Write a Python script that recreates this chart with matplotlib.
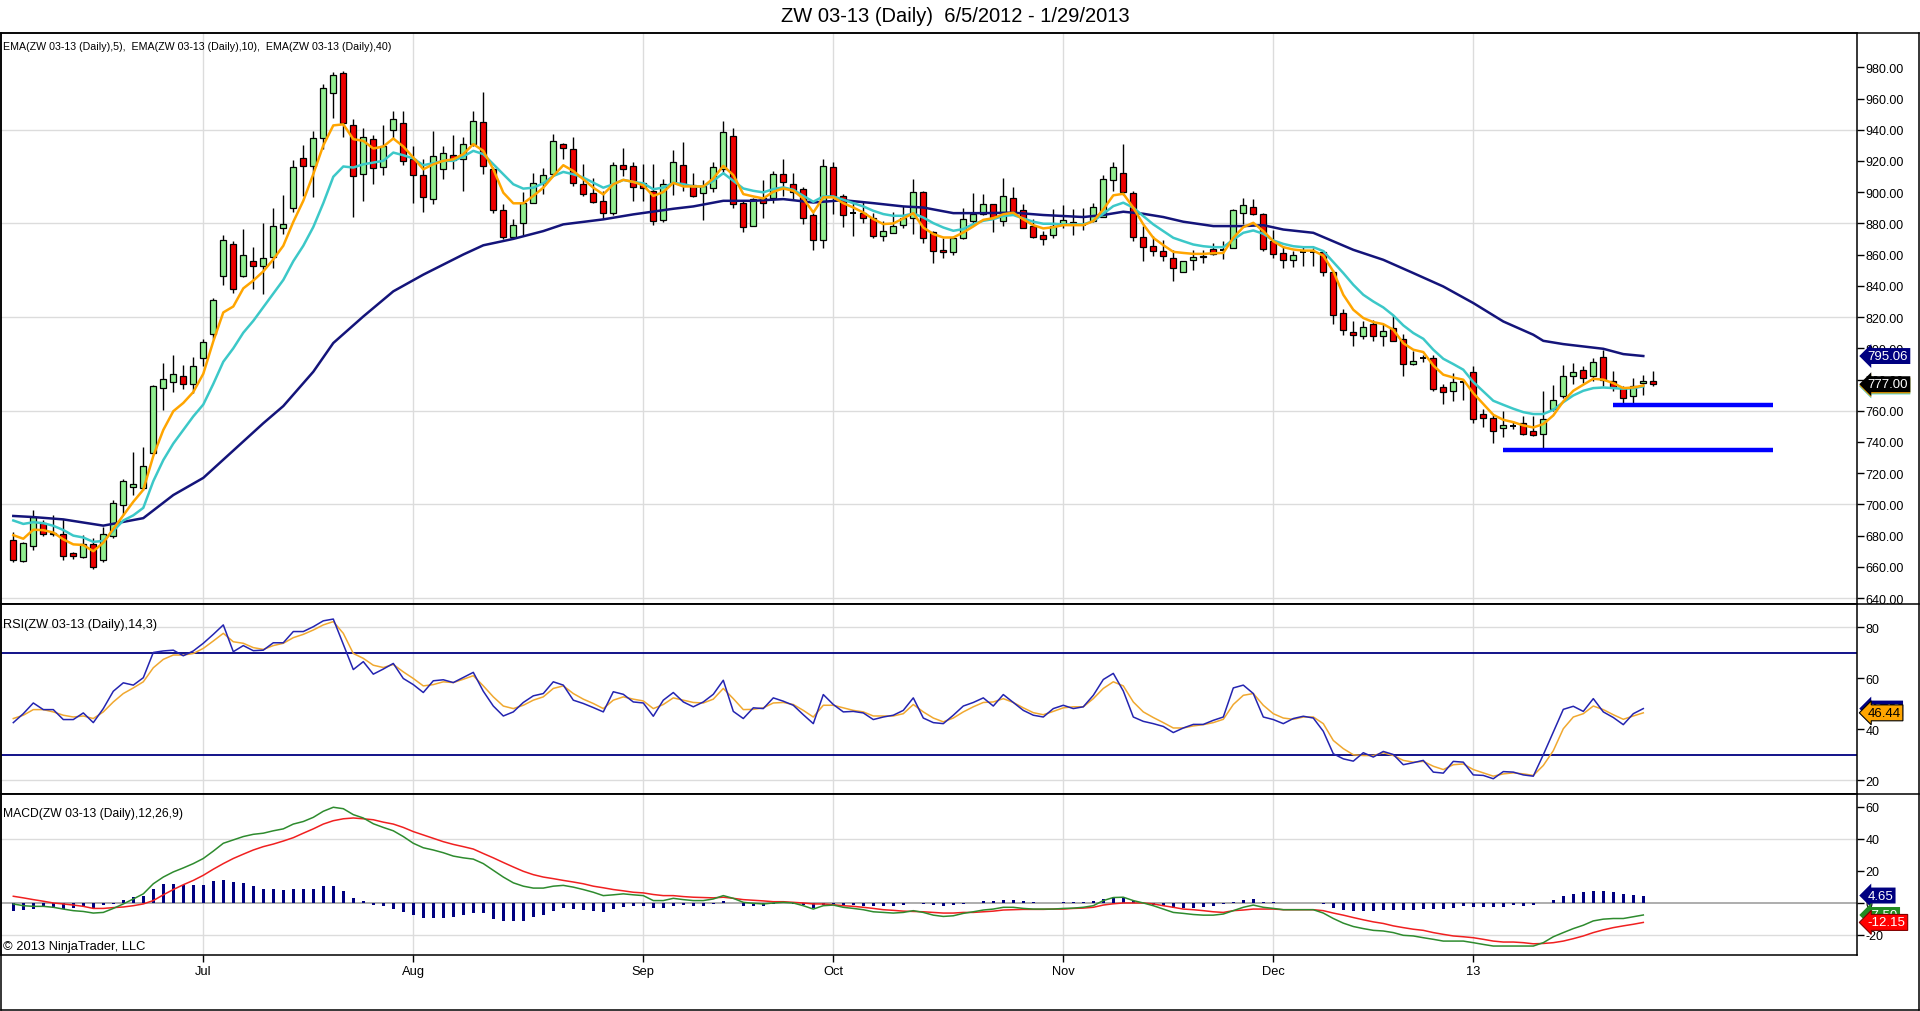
import matplotlib
matplotlib.use("Agg")
import matplotlib.pyplot as plt
import numpy as np
from matplotlib.lines import Line2D
from matplotlib.ticker import FuncFormatter
from matplotlib import font_manager

plt.rcParams['font.family'] = ['Liberation Sans', 'DejaVu Sans']
_names = {f.name for f in font_manager.fontManager.ttflist}
LEGEND_FAMILY = ['Liberation Sans Narrow', 'Liberation Sans'] if 'Liberation Sans Narrow' in _names else ['Liberation Sans']
LEGEND_FS = 9.3 if 'Liberation Sans Narrow' in _names else 7.7

# ---------------- data ----------------
title = "ZW 03-13 (Daily)  6/5/2012 - 1/29/2013"
month_ticks = [19, 40, 63, 82, 105, 126, 146]
month_labels = ["Jul", "Aug", "Sep", "Oct", "Nov", "Dec", "13"]

opens = [677.3, 663.7, 673.3, 688.2, 681.0, 681.0, 668.6, 666.3, 674.4, 664.6,
         679.9, 699.6, 710.9, 710.5, 732.8, 774.3, 778.7, 782.2, 777.2, 794.0,
         809.3, 846.4, 866.8, 846.4, 855.8, 853.0, 858.7, 877.0, 889.7, 922.1,
         917.0, 935.0, 963.6, 976.1, 943.0, 911.9, 934.0, 916.4, 940.0, 944.3,
         921.1, 910.9, 895.4, 915.1, 923.9, 921.6, 931.2, 944.7, 914.7, 888.6,
         871.4, 880.0, 893.3, 906.1, 911.5, 931.2, 928.0, 905.5, 899.7, 894.4,
         886.9, 917.3, 916.9, 906.1, 900.8, 882.1, 905.8, 917.4, 904.6, 899.4,
         902.4, 914.8, 935.7, 893.4, 878.5, 896.0, 896.0, 911.6, 905.2, 902.0,
         885.3, 869.5, 915.9, 897.7, 886.8, 887.0, 883.8, 871.7, 873.6, 878.9,
         883.8, 900.3, 874.2, 862.9, 861.4, 870.4, 881.7, 886.0, 892.2, 881.7,
         896.5, 888.8, 878.3, 872.3, 872.5, 879.8, 881.1, 879.3, 881.5, 884.1,
         907.9, 912.6, 899.7, 871.2, 865.6, 862.6, 857.9, 848.9, 856.6, 859.0,
         863.7, 863.3, 864.4, 886.9, 890.7, 886.2, 868.6, 861.1, 856.6, 861.6,
         861.4, 861.8, 848.9, 822.6, 810.4, 807.6, 815.5, 807.6, 813.0, 805.9,
         789.9, 793.6, 793.7, 775.2, 772.8, 778.5, 784.8, 757.9, 755.3, 748.9,
         750.2, 752.1, 746.8, 745.0, 761.3, 769.2, 782.0, 786.3, 782.0, 794.2,
         778.8, 774.5, 769.2, 777.7, 779.2]

highs = [682.1, 676.0, 696.3, 689.7, 693.0, 690.8, 669.4, 680.3, 678.8, 685.4,
         702.8, 716.2, 733.4, 736.7, 776.5, 790.3, 795.7, 789.2, 794.6, 806.2,
         832.5, 872.7, 869.0, 876.6, 865.2, 880.5, 890.2, 898.0, 920.8, 930.2,
         938.9, 969.5, 976.7, 977.6, 946.9, 940.9, 936.6, 943.0, 952.2, 952.2,
         929.3, 921.6, 939.4, 929.3, 936.6, 935.1, 952.2, 964.0, 916.4, 892.2,
         882.6, 900.1, 912.1, 915.8, 937.2, 931.5, 935.1, 917.9, 909.4, 900.8,
         919.4, 928.6, 919.4, 917.9, 917.9, 908.7, 927.2, 931.9, 912.2, 908.0,
         919.5, 945.8, 940.9, 894.5, 896.0, 908.0, 913.7, 921.2, 912.2, 903.1,
         887.0, 921.2, 919.1, 898.8, 893.4, 893.8, 887.0, 881.7, 887.5, 890.9,
         908.4, 900.9, 875.3, 870.4, 871.7, 890.2, 899.4, 898.8, 892.5, 908.8,
         903.4, 892.6, 882.6, 875.1, 889.0, 891.8, 889.0, 889.6, 893.3, 911.1,
         919.6, 930.8, 900.8, 878.3, 871.9, 869.1, 863.3, 856.0, 863.3, 863.3,
         867.6, 868.6, 889.0, 896.1, 895.4, 886.9, 876.1, 865.4, 862.6, 864.8,
         864.4, 863.3, 850.3, 825.3, 817.7, 817.7, 818.3, 815.5, 821.5, 809.1,
         798.4, 795.4, 795.4, 777.1, 784.1, 779.2, 788.4, 761.3, 757.4, 759.6,
         753.6, 756.4, 756.4, 772.8, 776.7, 789.5, 790.5, 788.4, 793.7, 799.1,
         785.2, 775.6, 780.9, 783.1, 785.2]

lows = [662.8, 663.3, 671.1, 679.5, 680.0, 664.6, 665.3, 665.7, 658.7, 662.8,
        678.8, 693.0, 706.1, 709.4, 732.3, 760.3, 772.1, 773.9, 771.3, 788.7,
        806.2, 840.5, 835.7, 846.0, 837.7, 834.6, 851.5, 873.3, 887.5, 897.4,
        896.7, 928.0, 947.7, 935.6, 884.3, 894.4, 905.1, 910.9, 934.0, 917.3,
        892.9, 887.3, 892.2, 908.7, 914.7, 900.8, 929.3, 911.5, 886.9, 870.1,
        870.8, 872.3, 892.9, 898.6, 910.4, 921.1, 904.0, 897.6, 892.9, 883.0,
        885.1, 910.4, 894.4, 894.4, 878.9, 881.1, 898.1, 900.9, 896.7, 882.3,
        899.9, 911.6, 890.2, 874.7, 878.5, 883.2, 893.4, 897.7, 895.6, 879.6,
        863.1, 864.0, 886.0, 877.4, 871.7, 880.6, 870.4, 868.9, 873.6, 876.8,
        873.2, 867.4, 854.6, 857.6, 859.7, 869.9, 879.6, 885.3, 874.2, 878.6,
        885.4, 876.8, 870.4, 866.1, 870.8, 876.8, 872.5, 876.1, 881.1, 884.1,
        900.8, 898.2, 868.6, 856.2, 859.0, 856.2, 842.9, 848.7, 850.4, 854.7,
        859.6, 857.5, 864.0, 879.8, 885.4, 862.6, 857.9, 851.5, 851.9, 852.6,
        852.6, 846.1, 815.5, 808.7, 801.8, 805.9, 804.4, 801.6, 804.4, 782.0,
        789.5, 791.2, 772.8, 764.3, 766.0, 767.0, 752.1, 749.3, 739.3, 742.9,
        748.5, 744.6, 743.6, 736.1, 759.6, 768.1, 777.1, 777.7, 778.8, 775.6,
        772.4, 762.8, 763.8, 769.8, 775.6]

closes = [664.6, 675.1, 691.9, 681.0, 681.8, 666.8, 666.8, 674.4, 660.2, 681.0,
          700.7, 714.9, 713.1, 724.7, 775.6, 780.4, 783.7, 777.2, 788.7, 804.0,
          831.2, 869.4, 837.7, 859.8, 853.0, 857.8, 878.4, 879.9, 916.0, 917.0,
          934.5, 966.7, 975.0, 944.4, 910.4, 935.1, 915.8, 929.3, 946.9, 920.1,
          911.1, 897.1, 923.3, 925.4, 920.7, 931.2, 945.4, 916.9, 888.6, 871.4,
          878.7, 892.9, 906.1, 911.3, 932.5, 928.6, 906.1, 899.1, 893.9, 886.4,
          917.7, 915.1, 903.6, 902.9, 881.5, 905.5, 919.1, 905.2, 897.7, 903.7,
          915.9, 938.3, 892.4, 877.4, 895.6, 893.4, 911.6, 906.3, 900.3, 883.2,
          869.5, 916.5, 897.7, 885.3, 886.8, 883.2, 871.7, 874.9, 878.1, 883.8,
          899.9, 870.4, 862.1, 861.4, 870.4, 882.8, 886.0, 892.2, 883.8, 897.8,
          886.9, 877.2, 871.2, 870.1, 878.3, 882.1, 879.4, 879.3, 890.7, 908.3,
          916.4, 900.4, 871.2, 864.8, 862.2, 859.0, 851.5, 855.8, 858.6, 858.4,
          860.7, 863.3, 888.8, 891.6, 885.8, 863.7, 860.5, 856.4, 859.6, 861.6,
          861.4, 848.9, 821.3, 811.9, 808.7, 813.4, 807.6, 810.8, 804.8, 789.9,
          792.0, 793.6, 773.9, 772.0, 778.4, 778.5, 754.7, 755.3, 746.8, 751.0,
          750.2, 745.0, 744.2, 754.9, 767.0, 782.0, 784.8, 780.9, 791.2, 779.4,
          774.9, 768.1, 775.6, 779.2, 777.0]

ema5 = [680.3, 678.0, 683.8, 683.5, 682.0, 677.6, 674.4, 674.0, 670.0, 675.5,
        684.3, 693.0, 701.7, 709.4, 731.0, 747.7, 759.7, 765.0, 772.0, 783.7,
        804.5, 823.0, 826.8, 838.4, 843.4, 849.3, 857.0, 865.7, 881.0, 894.5,
        911.6, 930.0, 942.8, 943.5, 934.0, 932.9, 928.0, 929.3, 934.4, 929.3,
        922.2, 914.7, 917.9, 920.1, 921.1, 924.4, 930.8, 926.5, 914.7, 899.7,
        892.9, 892.9, 897.6, 902.9, 910.4, 917.3, 913.6, 908.3, 902.9, 898.6,
        905.1, 907.9, 906.6, 904.4, 897.6, 900.1, 906.0, 903.7, 903.7, 903.7,
        908.8, 916.9, 911.0, 898.8, 897.3, 896.0, 900.3, 902.4, 900.9, 896.0,
        887.0, 896.7, 896.7, 893.0, 890.2, 887.0, 882.8, 879.6, 880.0, 883.2,
        886.6, 877.4, 873.2, 871.0, 871.0, 874.2, 878.1, 882.3, 883.4, 885.9,
        886.9, 882.6, 878.9, 876.8, 877.6, 878.9, 878.9, 878.9, 881.5, 889.0,
        898.0, 899.0, 890.1, 879.4, 870.8, 866.1, 861.8, 861.1, 860.5, 860.5,
        860.9, 861.1, 870.8, 877.6, 880.4, 875.1, 868.6, 864.8, 863.3, 862.6,
        862.6, 859.3, 849.3, 834.3, 824.7, 819.4, 816.8, 815.5, 811.9, 803.3,
        799.1, 797.6, 789.0, 783.1, 781.3, 779.9, 771.3, 764.3, 757.4, 754.2,
        752.7, 750.6, 749.3, 751.5, 757.0, 766.0, 772.8, 776.7, 780.5, 779.9,
        777.7, 774.5, 774.9, 776.2]

ema10 = [689.7, 687.5, 688.6, 688.0, 686.3, 683.6, 680.0, 678.8, 676.0, 676.6,
         683.0, 689.7, 693.0, 697.8, 714.9, 728.4, 739.0, 747.7, 756.4, 764.0,
         777.2, 791.4, 800.0, 810.0, 817.6, 826.3, 835.0, 843.8, 855.8, 865.7,
         877.7, 893.0, 909.9, 916.5, 915.8, 917.9, 919.0, 920.1, 925.4, 923.7,
         921.6, 917.3, 918.6, 920.1, 920.1, 922.9, 926.5, 924.4, 917.9, 911.5,
         905.1, 902.3, 902.9, 905.7, 910.4, 913.0, 911.5, 909.4, 906.1, 902.9,
         905.1, 907.9, 906.6, 905.7, 901.9, 903.0, 906.0, 905.2, 903.7, 903.7,
         907.3, 912.2, 907.3, 902.4, 900.9, 899.9, 902.0, 903.1, 901.6, 897.7,
         893.9, 897.3, 897.3, 895.2, 893.0, 890.9, 888.1, 886.0, 884.9, 884.9,
         886.4, 883.8, 880.2, 877.4, 875.3, 876.4, 879.6, 881.7, 882.8, 884.8,
         885.4, 883.2, 881.1, 879.8, 879.8, 879.4, 879.4, 879.4, 881.5, 886.2,
         891.1, 893.3, 890.1, 884.7, 879.4, 875.1, 870.8, 868.6, 866.5, 865.4,
         864.8, 864.8, 869.7, 874.0, 875.5, 873.4, 869.1, 866.9, 865.4, 864.8,
         864.8, 862.3, 855.2, 848.2, 840.7, 834.3, 830.0, 826.2, 821.1, 814.7,
         809.8, 806.1, 799.1, 793.3, 789.9, 786.3, 778.4, 772.4, 766.4, 763.8,
         761.3, 759.1, 757.9, 757.9, 760.6, 765.5, 769.8, 772.8, 774.5, 774.9,
         774.5, 774.1, 774.5, 775.6]

ema40_bars = [0, 2, 5, 9, 13, 16, 19, 22, 25, 27, 30, 32, 35, 38, 41, 45, 47, 50,
              53, 55, 59, 62, 66, 68, 71, 74, 77, 80, 83, 86, 89, 91, 94, 97, 100,
              103, 107, 109, 111, 113, 115, 117, 120, 123, 125, 127, 130, 134, 137,
              140, 143, 146, 149, 152, 153, 155, 159, 161, 163]
ema40 = [692.6, 691.9, 690.4, 686.4, 691.2, 706.0, 717.0, 734.5, 752.0, 763.0,
         785.0, 803.4, 820.4, 836.5, 847.2, 860.1, 866.0, 870.1, 875.1, 879.4,
         882.6, 885.8, 889.4, 890.9, 894.5, 894.5, 895.6, 893.4, 894.9, 893.0,
         890.9, 890.2, 886.6, 886.6, 886.9, 885.4, 884.1, 885.4, 887.5, 886.2,
         884.1, 881.1, 878.3, 878.3, 878.9, 876.1, 874.0, 863.1, 856.7, 848.2,
         839.6, 829.0, 817.2, 808.7, 804.8, 802.7, 799.7, 796.3, 795.06]

support_levels = [734.8, 763.4]
support_start = [149, 160]
support_end = 176

rsi = [42.6, 46.1, 50.3, 47.7, 47.7, 43.8, 43.8, 46.4, 42.6, 48.1,
       54.9, 58.2, 57.3, 60.2, 70.1, 70.7, 71.0, 68.8, 70.7, 73.7,
       77.2, 80.9, 70.4, 72.8, 70.8, 71.0, 73.9, 73.9, 78.3, 78.3,
       80.2, 82.5, 83.2, 73.3, 63.4, 66.5, 61.6, 63.6, 65.8, 59.9,
       57.5, 54.4, 59.0, 59.4, 58.3, 60.3, 62.3, 54.9, 49.1, 45.2,
       46.8, 50.5, 53.1, 54.0, 58.6, 57.3, 51.4, 50.1, 48.5, 46.8,
       54.7, 53.7, 50.7, 50.3, 45.1, 51.4, 54.4, 50.7, 48.8, 50.7,
       53.7, 59.2, 47.0, 44.2, 48.4, 48.1, 52.3, 51.0, 49.4, 45.7,
       42.2, 53.6, 49.7, 46.8, 47.0, 46.4, 43.8, 44.8, 45.5, 47.4,
       52.3, 44.4, 42.6, 42.2, 45.5, 49.1, 50.5, 52.3, 49.1, 53.6,
       50.5, 47.4, 45.5, 44.8, 48.1, 49.4, 48.1, 48.8, 53.3, 59.5,
       61.9, 55.0, 44.8, 43.1, 42.2, 41.1, 38.7, 40.5, 41.9, 41.9,
       43.5, 44.8, 56.2, 57.3, 54.0, 44.8, 43.8, 42.2, 44.2, 45.1,
       44.4, 39.2, 30.4, 28.4, 27.5, 30.8, 29.1, 31.3, 30.1, 26.1,
       26.9, 27.8, 23.2, 22.8, 27.4, 27.1, 22.1, 21.9, 20.6, 23.4,
       23.2, 22.1, 21.6, 30.0, 38.9, 47.8, 49.0, 47.0, 52.0, 46.8,
       44.6, 41.8, 46.1, 48.1]

rsi_avg = [44.2, 45.5, 47.7, 47.7, 46.8, 45.5, 44.8, 45.2, 44.2, 46.8,
           50.7, 54.0, 56.2, 58.6, 64.1, 67.4, 69.1, 69.1, 69.7, 71.7,
           74.6, 77.6, 74.3, 73.7, 72.0, 71.3, 72.8, 73.7, 75.9, 77.2,
           78.9, 80.9, 82.2, 77.6, 69.7, 67.8, 65.1, 64.2, 65.4, 62.5,
           59.9, 57.0, 57.5, 58.6, 58.3, 59.6, 61.0, 57.0, 52.7, 49.1,
           48.1, 49.4, 51.4, 52.7, 56.0, 57.0, 54.0, 51.8, 50.1, 48.1,
           51.4, 52.7, 51.8, 51.1, 48.1, 49.7, 52.3, 51.4, 50.5, 50.3,
           51.8, 56.0, 52.0, 47.7, 47.8, 48.4, 50.3, 50.5, 49.7, 47.4,
           44.8, 49.4, 49.4, 48.4, 47.4, 46.8, 45.2, 45.2, 45.2, 46.1,
           49.7, 46.8, 44.4, 42.9, 44.4, 46.8, 48.8, 50.5, 50.7, 52.0,
           50.5, 48.4, 46.5, 45.7, 47.0, 48.4, 48.8, 48.8, 52.0, 56.0,
           58.6, 57.0, 50.7, 46.8, 44.6, 42.6, 40.5, 40.5, 41.3, 41.8,
           42.6, 43.9, 49.7, 53.3, 54.0, 49.4, 46.1, 44.4, 43.9, 44.8,
           44.8, 42.2, 35.6, 32.4, 30.0, 29.7, 29.7, 30.8, 29.7, 27.8,
           27.1, 27.4, 25.5, 24.2, 26.1, 26.4, 24.2, 22.9, 21.6, 22.5,
           22.9, 22.5, 21.9, 25.8, 31.6, 40.2, 44.8, 46.1, 49.1, 47.7,
           45.7, 43.9, 45.2, 46.44]

macd = [-0.6, -1.7, -2.1, -2.1, -2.7, -3.8, -4.8, -5.3, -6.3, -5.9,
        -3.4, -0.6, 2.5, 5.7, 12.0, 16.2, 19.4, 21.9, 24.6, 27.8,
        32.4, 37.3, 39.4, 41.5, 42.9, 43.6, 45.1, 46.3, 49.3, 50.9,
        53.5, 57.3, 59.8, 58.9, 55.2, 53.1, 49.5, 47.2, 45.1, 41.5,
        37.3, 34.5, 33.1, 31.4, 29.3, 28.2, 27.4, 24.6, 20.4, 16.2,
        12.6, 10.5, 9.3, 9.3, 10.5, 11.0, 9.9, 8.4, 6.7, 4.6,
        5.1, 5.7, 5.1, 4.6, 1.5, 1.5, 2.9, 2.1, 1.5, 1.5,
        2.5, 4.6, 2.9, 0.4, -0.2, -0.6, 0.0, 0.4, 0.0, -1.7,
        -3.8, -1.7, -1.3, -2.7, -3.4, -4.2, -5.5, -5.9, -6.3, -5.9,
        -4.8, -5.9, -7.6, -8.4, -8.0, -6.5, -5.5, -4.4, -3.8, -2.7,
        -2.7, -3.4, -3.8, -3.8, -3.8, -3.4, -3.2, -2.7, -1.7, 1.5,
        3.4, 3.6, 1.5, 0.0, -1.7, -3.8, -5.9, -6.5, -7.2, -7.6,
        -7.6, -6.9, -4.8, -2.7, -1.3, -2.7, -3.4, -4.2, -4.2, -4.2,
        -4.2, -6.3, -9.7, -12.6, -14.7, -16.0, -17.1, -17.5, -18.5, -20.2,
        -20.6, -21.7, -22.7, -23.8, -23.8, -23.8, -24.8, -25.9, -26.9, -26.9,
        -26.9, -26.9, -26.9, -24.8, -21.1, -18.5, -16.0, -13.9, -11.2, -10.1,
        -9.7, -9.7, -8.6, -7.5]

macd_signal = [4.2, 3.2, 2.1, 1.1, 0.0, -0.6, -1.3, -2.1, -3.4, -3.4,
               -2.9, -2.5, -1.7, -0.6, 1.5, 5.1, 8.4, 11.4, 14.1, 17.3,
               21.1, 24.6, 27.8, 30.5, 33.1, 35.2, 36.8, 38.7, 40.8, 43.6,
               46.3, 49.3, 51.4, 52.6, 53.1, 52.6, 52.0, 50.5, 49.3, 47.2,
               44.6, 42.5, 40.4, 38.3, 36.6, 35.2, 33.7, 30.9, 28.2, 25.3,
               22.5, 19.8, 17.7, 16.2, 15.2, 14.1, 13.1, 12.0, 10.5, 9.5,
               8.4, 7.6, 6.7, 6.3, 5.3, 4.6, 4.6, 4.0, 3.6, 3.4,
               3.2, 3.6, 2.9, 2.1, 1.7, 1.3, 0.8, 0.8, 0.4, 0.0,
               -0.6, -0.6, -1.1, -1.7, -2.1, -2.7, -3.4, -4.2, -4.6, -5.1,
               -5.3, -5.5, -5.9, -6.3, -6.3, -5.9, -5.9, -5.5, -5.1, -4.4,
               -4.2, -4.0, -4.0, -4.0, -3.8, -3.8, -3.4, -3.2, -2.7, -1.3,
               -0.5, 0.0, 0.0, 0.0, -0.6, -1.7, -2.7, -3.8, -4.2, -4.8,
               -5.5, -5.9, -4.8, -4.4, -3.8, -3.8, -3.8, -4.2, -4.2, -4.2,
               -4.2, -4.8, -6.3, -7.6, -9.1, -10.5, -11.8, -12.8, -14.3, -15.4,
               -16.4, -17.1, -18.5, -19.6, -20.6, -21.1, -21.7, -22.7, -23.8, -24.4,
               -24.4, -24.8, -25.5, -25.3, -24.8, -23.8, -22.3, -20.6, -18.5, -16.8,
               -15.4, -14.3, -13.3, -12.15]

macd_hist = [-4.8, -4.2, -3.6, -2.7, -3.0, -3.6, -3.4, -2.7, -3.0, -1.5,
             -0.4, 2.0, 3.8, 4.6, 8.6, 11.8, 11.8, 11.2, 11.2, 11.2,
             13.9, 14.5, 13.0, 12.2, 10.7, 8.8, 8.8, 8.4, 8.6, 8.6,
             8.8, 10.5, 10.9, 7.6, 3.2, 1.1, -1.5, -2.1, -3.6, -5.5,
             -7.4, -9.3, -9.3, -9.3, -8.8, -7.2, -6.3, -6.3, -10.1, -11.2,
             -11.2, -11.4, -8.8, -7.4, -4.8, -3.0, -3.8, -4.2, -4.8, -5.5,
             -3.8, -2.7, -2.1, -2.1, -3.4, -3.2, -1.7, -1.3, -1.7, -1.7,
             -0.4, 1.5, 0.2, -1.7, -1.7, -1.7, -0.6, -0.2, -0.6, -1.5,
             -3.0, -1.3, -0.6, -1.1, -1.5, -1.7, -2.1, -1.9, -1.7, -1.1,
             0.2, -0.6, -1.5, -2.1, -1.5, -0.6, 0.2, 1.1, 1.3, 2.1,
             2.1, 1.1, 0.4, 0.1, 0.1, 0.4, 0.4, 0.6, 1.1, 2.7,
             3.6, 3.6, 1.3, 0.0, -1.1, -2.1, -3.2, -2.9, -2.9, -2.7,
             -1.7, -0.6, 0.4, 1.7, 2.3, 0.8, 0.6, 0.1, 0.2, 0.2,
             0.2, -0.8, -3.0, -4.6, -5.1, -5.3, -5.3, -4.6, -4.2, -4.2,
             -4.2, -3.8, -3.8, -3.8, -3.2, -2.1, -2.3, -2.7, -2.5, -2.3,
             -1.5, -1.7, -1.1, 0.0, 1.7, 4.2, 5.9, 6.7, 7.6, 7.2,
             6.7, 5.3, 5.1, 4.65]

price_ticks = list(range(640, 981, 20))
price_grid = [640, 700, 760, 820, 880, 940]
rsi_ticks = [20, 40, 60, 80]
rsi_grid = [20, 80]
rsi_levels = [30, 70]
macd_ticks = [-20, 0, 20, 40, 60]
macd_grid = [-20, 40]

# ---------------- styling ----------------
W, H = 1920, 1012
C_UP = '#90EE90'
C_DN = '#EE0000'
C_E5 = '#FFA500'
C_E10 = '#3CC8C8'
C_E40 = '#14147A'
C_GRID = '#DCDCDC'
FS_AX = 9.0

fig = plt.figure(figsize=(W / 100, H / 100), dpi=100)
fig.patch.set_facecolor('white')


def fy(py):
    return 1 - py / H


x_left, x_right = 1.0, 1856.7
y_top, y_main, y_rsi, y_macd = 34.0, 605.0, 795.3, 956.0
axw = (x_right - x_left) / W
ax1 = fig.add_axes([x_left / W, fy(y_main), axw, (y_main - y_top) / H])
ax2 = fig.add_axes([x_left / W, fy(y_rsi), axw, (y_rsi - y_main) / H], sharex=ax1)
ax3 = fig.add_axes([x_left / W, fy(y_macd), axw, (y_macd - y_rsi) / H], sharex=ax1)

n = len(closes)
xb = np.arange(n)
o = np.array(opens); h = np.array(highs); l = np.array(lows); c = np.array(closes)
xi = np.arange(len(rsi))

for ax in (ax1, ax2, ax3):
    ax.set_facecolor('white')
    for sp in ax.spines.values():
        sp.set_linewidth(1.1)
        sp.set_color('black')
    for m in month_ticks:
        ax.axvline(m, color=C_GRID, lw=1, zorder=0)
    ax.yaxis.tick_right()
    ax.tick_params(axis='y', direction='out', length=5, width=1, pad=1.5,
                   labelsize=FS_AX, left=False, right=True)

ax1.set_xlim(-1.23, 184.34)
ax3.set_xticks(month_ticks)
ax3.set_xticklabels(month_labels)
ax3.tick_params(axis='x', direction='out', length=5, width=1, pad=2.5, labelsize=9.3)
for ax in (ax1, ax2):
    ax.tick_params(axis='x', length=0, labelbottom=False)

# ---- price panel ----
for g in price_grid:
    ax1.axhline(g, color=C_GRID, lw=1, zorder=0)
ax1.vlines(xb, l, h, color='black', lw=1, zorder=3)
up = c > o + 0.3
dn = c < o - 0.3
dj = ~(up | dn)
ax1.bar(xb[up], (c - o)[up], bottom=o[up], width=0.6, color=C_UP,
        edgecolor='black', linewidth=0.9, zorder=4)
ax1.bar(xb[dn], (o - c)[dn], bottom=c[dn], width=0.6, color=C_DN,
        edgecolor='black', linewidth=0.9, zorder=4)
ax1.hlines(c[dj], xb[dj] - 0.3, xb[dj] + 0.3, color='black', lw=1.4, zorder=4)
ax1.plot(ema40_bars, ema40, color=C_E40, lw=1.8, zorder=5)
ax1.plot(xi, ema10, color=C_E10, lw=1.8, zorder=5)
ax1.plot(xi, ema5, color=C_E5, lw=1.8, zorder=6)
for lev, s in zip(support_levels, support_start):
    ax1.hlines(lev, s, support_end, color='#0000FF', lw=3.2, zorder=7)
ax1.set_ylim(636.2, 1002.0)
ax1.set_yticks(price_ticks)
ax1.yaxis.set_major_formatter(FuncFormatter(lambda v, p: f"{v:.2f}"))

# ---- RSI panel ----
for g in rsi_grid:
    ax2.axhline(g, color=C_GRID, lw=1, zorder=0)
for g in rsi_levels:
    ax2.axhline(g, color='#000080', lw=1.3, zorder=2)
ax2.plot(xi, rsi_avg, color='#F0A830', lw=1.1, zorder=3)
ax2.plot(xi, rsi, color='#2424B0', lw=1.1, zorder=4)
ax2.set_ylim(14.5, 89.1)
ax2.set_yticks(rsi_ticks)
ax2.set_yticklabels([str(t) for t in rsi_ticks])

# ---- MACD panel ----
for g in macd_grid:
    ax3.axhline(g, color=C_GRID, lw=1, zorder=0)
ax3.axhline(0, color='#A0A0A0', lw=1.2, zorder=1)
ax3.bar(xi, macd_hist, width=0.28, color='#000080', zorder=3)
ax3.plot(xi, macd_signal, color='#F02020', lw=1.1, zorder=4)
ax3.plot(xi, macd, color='#2E8B2E', lw=1.1, zorder=5)
ax3.set_ylim(-32.5, 67.9)
ax3.set_yticks(macd_ticks)
ax3.set_yticklabels([str(t) for t in macd_ticks])


# ---- value tags on the right axis ----
def tag(ax, y, text, fc, tc, ec='none', z=10):
    ax.annotate(text, xy=(1, y), xycoords=('axes fraction', 'data'),
                xytext=(8, 0), textcoords='offset points', ha='left', va='center',
                fontsize=9.5, color=tc, annotation_clip=False, zorder=z,
                bbox=dict(boxstyle='larrow,pad=0.15', fc=fc, ec=ec, lw=0.8))


tag(ax1, ema40[-1], f"{ema40[-1]:.2f}", '#000080', 'white', z=10)
tag(ax1, ema10[-1], f"{ema10[-1]:.2f}", C_E10, 'black', z=10)
tag(ax1, ema5[-1], f"{ema5[-1]:.2f}", C_E5, 'black', z=11)
tag(ax1, closes[-1], f"{closes[-1]:.2f}", 'black', 'white', z=12)
tag(ax2, rsi[-1], f"{rsi[-1]:.2f}", '#000080', 'white', z=10)
tag(ax2, rsi_avg[-1], f"{rsi_avg[-1]:.2f}", '#FFA500', 'black', ec='black', z=11)
tag(ax3, macd_hist[-1], f"{macd_hist[-1]:.2f}", '#000080', 'white', z=10)
tag(ax3, macd[-1], f"{macd[-1]:.2f}", '#228B22', 'white', z=11)
tag(ax3, macd_signal[-1], f"{macd_signal[-1]:.2f}", '#FF0000', 'white', ec='#800000', z=12)

# ---- panel captions ----
fig.text(3 / W, fy(47.5), "EMA(ZW 03-13 (Daily),5),  EMA(ZW 03-13 (Daily),10),  EMA(ZW 03-13 (Daily),40)",
         ha='left', va='center', fontsize=LEGEND_FS, family=LEGEND_FAMILY)
fig.text(3 / W, fy(625), "RSI(ZW 03-13 (Daily),14,3)", ha='left', va='center', fontsize=9.2)
fig.text(3 / W, fy(814), "MACD(ZW 03-13 (Daily),12,26,9)", ha='left', va='center', fontsize=8.7)
fig.text(3 / W, fy(947), "\u00a9 2013 NinjaTrader, LLC", ha='left', va='center', fontsize=9.3)
fig.text(955 / W, fy(16), title, ha='center', va='center', fontsize=14.5)

# ---- outer frame and panel separators ----
frame = [((0.5, y_top), (1919, y_top)), ((0.5, y_main), (1919, y_main)),
         ((0.5, y_rsi), (1919, y_rsi)), ((0.5, 1010.5), (1919, 1010.5)),
         ((0.7, y_top), (0.7, 1010.5)), ((1918.5, y_top), (1918.5, 1010.5))]
for (x0, y0), (x1, y1) in frame:
    fig.add_artist(Line2D([x0 / W, x1 / W], [fy(y0), fy(y1)], transform=fig.transFigure,
                          color='black', lw=1.1))

fig.savefig("out.png", dpi=100, facecolor='white')
